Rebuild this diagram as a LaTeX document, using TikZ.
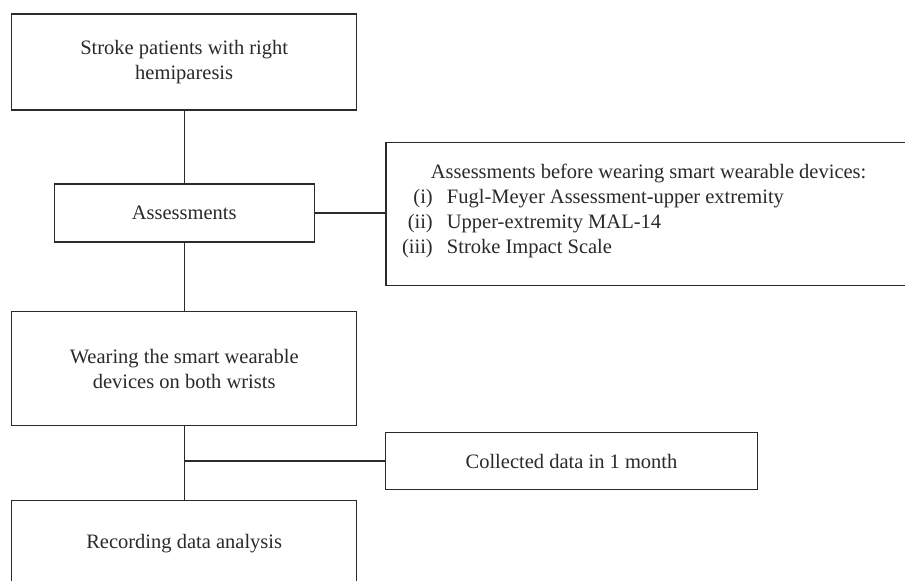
\documentclass[tikz,border=0pt]{standalone}
\usepackage{fontspec}
\setmainfont{Liberation Serif}
\definecolor{ink}{HTML}{2A2A2A}
\tikzset{
  box/.style={draw=ink, line width=1.2pt, inner sep=0pt, align=center, text=ink,
    font=\fontsize{20.5}{25}\selectfont},
  txt/.style={inner sep=0pt, text=ink, font=\fontsize{20.5}{25}\selectfont},
  link/.style={draw=ink, line width=1.2pt}
}
\begin{document}
\begin{tikzpicture}[x=1pt,y=-1pt]
\useasboundingbox (0,0) rectangle (905,581);
\fill[white] (0,0) rectangle (905,581);
\clip (0,0) rectangle (905,581);
\node[box, minimum width=345pt, minimum height=96pt] (b1) at (184.2,62)
  {Stroke patients with right\\hemiparesis};
\node[box, minimum width=260pt, minimum height=58pt] (b2) at (184.2,213) {Assessments};
\node[box, minimum width=345pt, minimum height=114pt] (b3) at (184.2,368.7)
  {Wearing the smart wearable\\devices on both wrists};
\node[box, minimum width=345pt, minimum height=86pt] (b4) at (184.2,543.7) {Recording data analysis};
\node[box, minimum width=372.4pt, minimum height=56.6pt] (coll) at (571.5,461) {Collected data in 1 month};
\node[box, minimum width=534.7pt, minimum height=143pt, anchor=north west] (rbox) at (385.3,142) {};
\node[txt, anchor=base west] (t0) at (430.7,178) {Assessments before wearing smart wearable devices:};
\node[txt, anchor=base east] (l1) at (433,203) {(i)};
\node[txt, anchor=base east] (l2) at (433,228) {(ii)};
\node[txt, anchor=base east] (l3) at (433,253) {(iii)};
\node[txt, anchor=base west] (i1) at (446.7,203) {Fugl-Meyer Assessment-upper extremity};
\node[txt, anchor=base west] (i2) at (446.7,228) {Upper-extremity MAL-14};
\node[txt, anchor=base west] (i3) at (446.7,253) {Stroke Impact Scale};
\draw[link] (b1.south) -- (b2.north);
\draw[link] (b2.south) -- (b3.north);
\draw[link] (b2.east) -- (b2.east -| rbox.west);
\draw[link] (b3.south) -- (b4.north);
\coordinate (j) at (b3.south |- coll.west);
\draw[link] (j) -- (coll.west);
\end{tikzpicture}
\end{document}
